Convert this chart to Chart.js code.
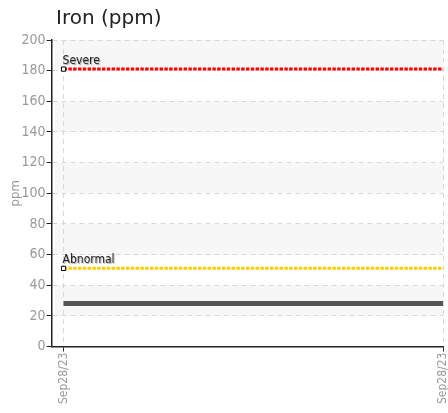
<!DOCTYPE html>
<html>
<head>
<meta charset="utf-8">
<script src="https://cdn.jsdelivr.net/npm/chart.js@4"></script>
<style>
  html, body { margin: 0; padding: 0; background: #fff; }
  #wrap { position: relative; width: 448px; height: 413px; }
  #title { position: absolute; left: 56px; top: 5px; font: 20px "DejaVu Sans", sans-serif; color: #222; }
  canvas { display: block; }
</style>
</head>
<body>
<div id="wrap">
  <div id="title">Iron (ppm)</div>
  <canvas id="myChart" width="448" height="413"></canvas>
</div>
<script>
const categories = ['Sep28/23', 'Sep28/23'];
const ironValues = [28, 28];
const severeValues = [181, 181];
const abnormalValues = [51, 51];
const limitNames = ['Severe', 'Abnormal'];
const yTicks = [0, 20, 40, 60, 80, 100, 120, 140, 160, 180, 200];

const narrow = '"DejaVu Sans Condensed", sans-serif';
Chart.defaults.font.family = narrow;

const toPoints = arr => arr.map((v, i) => ({ x: i, y: v }));

// grey bands behind the grid, every other 20 ppm
const bands = {
  id: 'bands',
  beforeDraw(chart) {
    const { ctx, chartArea, scales } = chart;
    const y = scales.y;
    ctx.save();
    ctx.fillStyle = '#f7f7f7';
    for (let i = yTicks.length - 1; i > 0; i -= 2) {
      const top = y.getPixelForValue(yTicks[i]);
      const bottom = y.getPixelForValue(yTicks[i - 1]);
      ctx.fillRect(chartArea.left + 3, top, chartArea.right - chartArea.left - 3, bottom - top);
    }
    ctx.restore();
  }
};

// limit names above the first point of each limit line
const limitLabels = {
  id: 'limitLabels',
  afterDatasetsDraw(chart) {
    const { ctx } = chart;
    ctx.save();
    ctx.font = '12px ' + narrow;
    ctx.textBaseline = 'bottom';
    ctx.textAlign = 'left';
    ctx.fillStyle = '#222';
    ctx.shadowColor = 'rgba(0,0,0,0.35)';
    ctx.shadowOffsetX = 1;
    ctx.shadowOffsetY = 1;
    ctx.shadowBlur = 1;
    [1, 2].forEach((di, k) => {
      const pt = chart.getDatasetMeta(di).data[0];
      ctx.fillText(limitNames[k], pt.x - 1, pt.y - 2);
    });
    ctx.restore();
  }
};

new Chart(document.getElementById('myChart'), {
  type: 'line',
  data: {
    datasets: [
      {
        label: 'Iron',
        data: toPoints(ironValues),
        borderColor: '#555555',
        borderWidth: 5,
        pointRadius: 0
      },
      {
        label: limitNames[0],
        data: toPoints(severeValues),
        borderColor: '#ff0000',
        borderWidth: 3,
        borderDash: [3.5, 1.3],
        pointStyle: 'rect',
        pointRadius: [3, 0],
        pointBackgroundColor: '#fff',
        pointBorderColor: '#000',
        pointBorderWidth: 1
      },
      {
        label: limitNames[1],
        data: toPoints(abnormalValues),
        borderColor: '#ffcc00',
        borderWidth: 3,
        borderDash: [3.5, 1.3],
        pointStyle: 'rect',
        pointRadius: [3, 0],
        pointBackgroundColor: '#fff',
        pointBorderColor: '#000',
        pointBorderWidth: 1
      }
    ]
  },
  options: {
    responsive: false,
    animation: false,
    devicePixelRatio: 1,
    layout: { padding: { top: 40, left: 8, right: 3, bottom: 8 } },
    plugins: {
      legend: { display: false },
      title: { display: false },
      tooltip: { enabled: false }
    },
    scales: {
      x: {
        type: 'linear',
        min: -0.0314,
        max: 1,
        afterBuildTicks(scale) {
          scale.ticks = categories.map((c, i) => ({ value: i }));
        },
        afterFit(scale) {
          scale.paddingRight = 0;
        },
        ticks: {
          autoSkip: false,
          minRotation: 90,
          maxRotation: 90,
          color: '#999',
          font: { size: 12 },
          padding: 1,
          callback: v => categories[v]
        },
        grid: {
          color: '#d8d8d8',
          tickColor: '#222',
          tickBorderDash: [],
          tickLength: 5
        },
        border: { color: '#222', width: 1.5, dash: [5, 4] }
      },
      y: {
        min: 0,
        max: 200,
        afterBuildTicks(scale) {
          scale.ticks = yTicks.map(v => ({ value: v }));
        },
        title: {
          display: true,
          text: 'ppm',
          color: '#999',
          font: { size: 13 },
          padding: { top: 0, bottom: -3 }
        },
        ticks: {
          color: '#999',
          font: { size: 14 },
          padding: 1
        },
        grid: {
          color: '#d8d8d8',
          tickColor: '#222',
          tickBorderDash: [],
          tickLength: 5
        },
        border: { color: '#222', width: 1.5, dash: [5, 4] }
      }
    }
  },
  plugins: [bands, limitLabels]
});
</script>
</body>
</html>
